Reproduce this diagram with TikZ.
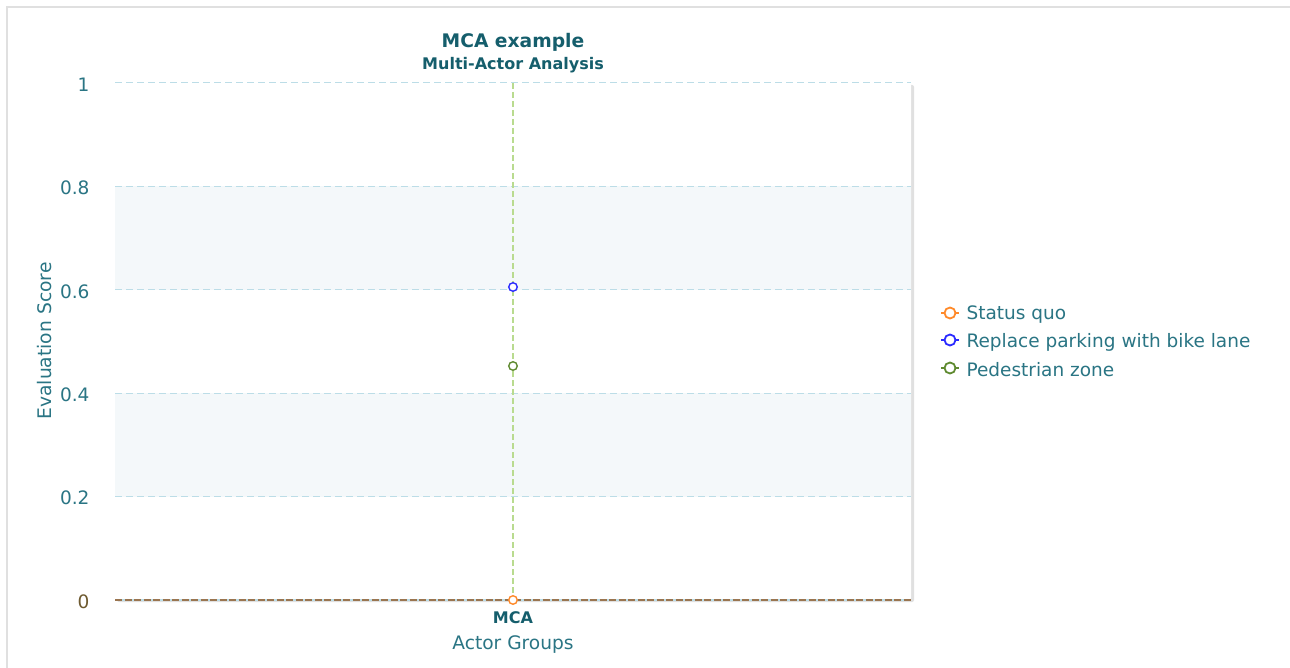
\documentclass[tikz,border=0pt]{standalone}
\usepackage{fontspec}
\setmainfont{DejaVu Sans}
\begin{document}
\begin{tikzpicture}[x=1pt,y=-1pt,
  titletext/.style={text=titlecol,font=\bfseries\fontsize{18.7}{20}\selectfont},
  subtext/.style={text=titlecol,font=\bfseries\fontsize{16}{18}\selectfont},
  ticktext/.style={text=axiscol,font=\fontsize{18.5}{20}\selectfont,anchor=east},
  legtext/.style={text=axiscol,font=\fontsize{18.5}{20}\selectfont,anchor=west},
  grid/.style={draw=gridcol,line width=1pt,dash pattern=on 7pt off 4pt},
  marker/.style={circle,draw,fill=white,line width=1.4pt,inner sep=0pt,minimum size=8.5pt},
  legmarker/.style={circle,draw,fill=white,line width=1.8pt,inner sep=0pt,minimum size=11pt}]
\definecolor{titlecol}{HTML}{155E6C}
\definecolor{axiscol}{HTML}{2A7584}
\definecolor{gridcol}{HTML}{BCDDE7}
\definecolor{bandcol}{HTML}{F4F8FA}
\definecolor{greenline}{HTML}{B9DB8F}
\definecolor{zerocol}{HTML}{6E5A30}
\definecolor{axisbrown}{HTML}{9A7550}
\definecolor{sqcol}{HTML}{FF8A2A}
\definecolor{bikecol}{HTML}{2B2BFF}
\definecolor{pedcol}{HTML}{5F8A30}
\useasboundingbox (0,0) rectangle (1290,668);
\fill[white] (0,0) rectangle (1290,668);
% outer frame
\draw[black!12,line width=1.5pt] (7,668) -- (7,7) -- (1290,7);
% plot shadow
\fill[black!12,rounded corners=2pt] (117,85) rectangle (914,602);
\fill[white,rounded corners=2pt] (115,83) rectangle (911,600);
% bands
\fill[bandcol] (115,186.4) rectangle (911,289.8);
\fill[bandcol] (115,393.2) rectangle (911,496.6);
% grid
\foreach \y in {83,186.4,289.8,393.2,496.6} \draw[grid] (115,\y) -- (911,\y);
\draw[gridcol,line width=1.8pt] (115,600) -- (911,600);
\draw[axisbrown,line width=1.8pt,dash pattern=on 7pt off 2.5pt] (115,600) -- (911,600);
% tick labels
\node[ticktext] (t1) at (93,84.5) {1};
\node[ticktext] (t08) at (93,187.9) {0.8};
\node[ticktext] (t06) at (93,291.3) {0.6};
\node[ticktext] (t04) at (93,394.7) {0.4};
\node[ticktext] (t02) at (93,498.1) {0.2};
\node[ticktext,text=zerocol] (t0) at (93,601.5) {0};
% titles
\node[titletext] (title) at (513,42) {MCA example};
\node[subtext] (sub) at (513,65) {Multi-Actor Analysis};
\node[text=axiscol,font=\fontsize{18.7}{20}\selectfont,rotate=90] (ylab) at (45,341) {Evaluation Score};
\node[text=titlecol,font=\bfseries\fontsize{16}{18}\selectfont] (xcat) at (513,618) {MCA};
\node[text=axiscol,font=\fontsize{18.6}{20}\selectfont] (xlab) at (513,644.5) {Actor Groups};
% series line
\coordinate (top) at (513,83);
\coordinate (bot) at (513,600);
\draw[greenline,line width=2pt,dash pattern=on 6pt off 3pt] (top) -- (bot);
\node[marker,draw=bikecol] (pb) at (513,287) {};
\node[marker,draw=pedcol] (pp) at (513,366) {};
\node[marker,draw=sqcol] (ps) at (513,600) {};
% legend
\foreach \yy/\c/\t/\n in {313/sqcol/Status quo/a,340/bikecol/Replace parking with bike lane/b,368/pedcol/Pedestrian zone/c}{
  \draw[\c,line width=1.8pt] (941,\yy) -- (959,\yy);
  \node[legmarker,draw=\c] (lm\n) at (950,\yy) {};
  \node[legtext] (lt\n) at (963,\yy+2) {\t};
}
\end{tikzpicture}
\end{document}
